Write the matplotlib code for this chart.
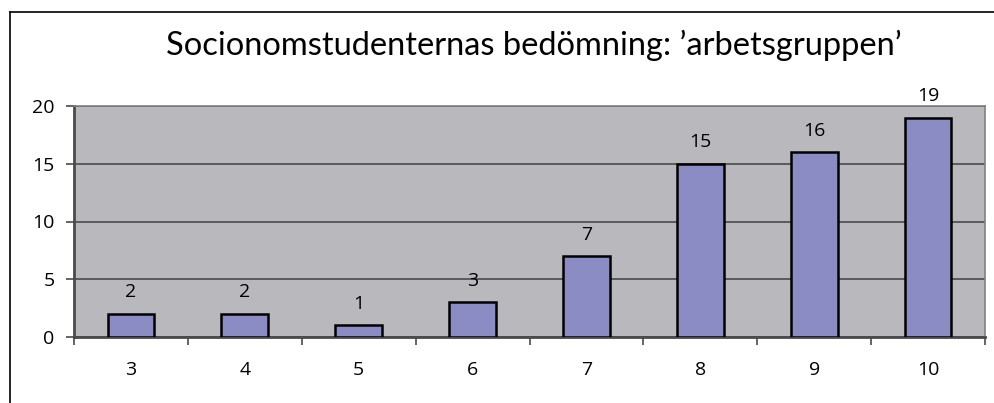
import matplotlib.pyplot as plt
from matplotlib.lines import Line2D

categories = ["3", "4", "5", "6", "7", "8", "9", "10"]
values = [2, 2, 1, 3, 7, 15, 16, 19]
y_ticks = [0, 5, 10, 15, 20]

TITLE = "Socionomstudenternas bedömning: \u2019arbetsgruppen\u2019"

BAR_COLOR = "#8c8cc4"
PLOT_BG = "#b9b9bd"
GRID_COLOR = "#4a4a4a"

plt.rcParams["font.family"] = ["Open Sans", "DejaVu Sans"]


def main():
    fig = plt.figure(figsize=(9.94, 4.03), dpi=100)

    # outer chart border: only top and left edges show in the reference
    W, H = 994, 403
    fig.add_artist(Line2D([10 / W, 10 / W], [0, 1 - 11.5 / H],
                          transform=fig.transFigure, color="black", lw=1.2))
    fig.add_artist(Line2D([10 / W, 994 / W], [1 - 11.5 / H, 1 - 11.5 / H],
                          transform=fig.transFigure, color="black", lw=1.2))

    left, right, top, bottom = 74, 985, 106, 337
    ax = fig.add_axes([left / W, 1 - bottom / H,
                       (right - left) / W, (bottom - top) / H])
    ax.set_facecolor(PLOT_BG)

    x = range(len(categories))
    bars = ax.bar(x, values, width=0.41, color=BAR_COLOR,
                  edgecolor="black", linewidth=1.8, zorder=3)

    ax.set_xlim(-0.5, len(categories) - 0.5)
    ax.set_ylim(0, 20)
    ax.set_yticks(y_ticks)
    ax.set_yticklabels([str(t) for t in y_ticks], fontsize=14)
    ax.set_xticks(list(x))
    ax.set_xticklabels(categories, fontsize=14)
    ax.set_xticks([i + 0.5 for i in range(-1, len(categories))], minor=True)
    ax.tick_params(axis="x", which="major", length=0, pad=17)
    ax.tick_params(axis="x", which="minor", length=6, width=1.2,
                   color=GRID_COLOR, direction="out")
    ax.tick_params(axis="y", length=6, width=1.2, color=GRID_COLOR, pad=8)

    ax.yaxis.grid(True, color=GRID_COLOR, linewidth=1.2, zorder=1)
    ax.set_axisbelow(True)

    for side in ["top", "right"]:
        ax.spines[side].set_color("#808080")
        ax.spines[side].set_linewidth(1.2)
    for side in ["left", "bottom"]:
        ax.spines[side].set_color(GRID_COLOR)
        ax.spines[side].set_linewidth(2)

    for bar, v in zip(bars, values):
        ax.annotate(str(v), (bar.get_x() + bar.get_width() / 2, v),
                    xytext=(0, 15.5), textcoords="offset points",
                    ha="center", va="center", fontsize=14, clip_on=False)

    fig.text(534 / W, 1 - 45 / H, TITLE, ha="center", va="center",
             fontsize=23.5, family=["Lato", "DejaVu Sans"])

    fig.savefig("out.png", dpi=100)


if __name__ == "__main__":
    main()
